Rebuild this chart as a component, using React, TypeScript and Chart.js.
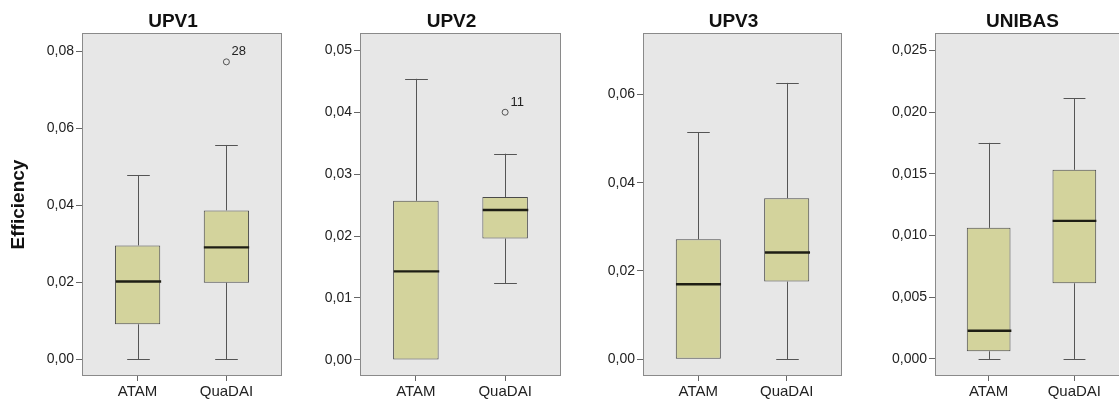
import React, { useEffect, useRef } from "react";
import { Chart, registerables } from "chart.js";

Chart.register(...registerables);

// ---------- data ----------
const categories = ["ATAM", "QuaDAI"];
const panelTitles = ["UPV1", "UPV2", "UPV3", "UNIBAS"];
const yAxisTitle = "Efficiency";

const upv1Min = [0, 0];
const upv1Q1 = [0.0091, 0.0199];
const upv1Median = [0.0202, 0.0291];
const upv1Q3 = [0.0296, 0.0387];
const upv1Max = [0.0479, 0.0557];
const upv1OutlierValue = [null, 0.0773];
const upv1OutlierLabel = ["", "28"];
const upv1Ticks = [0, 0.02, 0.04, 0.06, 0.08];

const upv2Min = [0, 0.0124];
const upv2Q1 = [0, 0.0196];
const upv2Median = [0.0143, 0.0242];
const upv2Q3 = [0.0257, 0.0263];
const upv2Max = [0.0454, 0.0333];
const upv2OutlierValue = [null, 0.04];
const upv2OutlierLabel = ["", "11"];
const upv2Ticks = [0, 0.01, 0.02, 0.03, 0.04, 0.05];

const upv3Min = [0, 0];
const upv3Q1 = [0, 0.0176];
const upv3Median = [0.017, 0.0242];
const upv3Q3 = [0.0272, 0.0365];
const upv3Max = [0.0514, 0.0626];
const upv3OutlierValue = [null, null];
const upv3OutlierLabel = ["", ""];
const upv3Ticks = [0, 0.02, 0.04, 0.06];

const unibasMin = [0, 0];
const unibasQ1 = [0.00062, 0.00613];
const unibasMedian = [0.00229, 0.01118];
const unibasQ3 = [0.01062, 0.01532];
const unibasMax = [0.0175, 0.02113];
const unibasOutlierValue = [null, null];
const unibasOutlierLabel = ["", ""];
const unibasTicks = [0, 0.005, 0.01, 0.015, 0.02, 0.025];

const axisMin = [-0.00434, -0.0026, -0.00378, -0.00138];
const axisMax = [0.0848, 0.0528, 0.0739, 0.0264];
const tickDecimals = [2, 2, 2, 3];

// ---------- styling / layout ----------
const FONT = "'Liberation Sans', Arial, sans-serif";
const BOX_FILL = "#D3D39C";
const BOX_EDGE = "#4a4a4a";
const PLOT_BG = "#E7E7E7";
const FRAME = "#8a8a8a";
const TEXT = "#222222";
const PLOT_TOP = 33;
const PLOT_BOTTOM = 376;
const H = 403;
const RIGHT_PAD = 6;
const plotLefts = [82, 360, 643, 935];
const plotRights = [282, 561, 842, 1128];
const CAT_PAD = 0.626;

const panels = [
  { min: upv1Min, q1: upv1Q1, med: upv1Median, q3: upv1Q3, max: upv1Max, outV: upv1OutlierValue, outL: upv1OutlierLabel, ticks: upv1Ticks },
  { min: upv2Min, q1: upv2Q1, med: upv2Median, q3: upv2Q3, max: upv2Max, outV: upv2OutlierValue, outL: upv2OutlierLabel, ticks: upv2Ticks },
  { min: upv3Min, q1: upv3Q1, med: upv3Median, q3: upv3Q3, max: upv3Max, outV: upv3OutlierValue, outL: upv3OutlierLabel, ticks: upv3Ticks },
  { min: unibasMin, q1: unibasQ1, med: unibasMedian, q3: unibasQ3, max: unibasMax, outV: unibasOutlierValue, outL: unibasOutlierLabel, ticks: unibasTicks },
];

function Panel({ index }: { index: number }) {
  const ref = useRef<HTMLCanvasElement | null>(null);
  const p = panels[index];
  const left = index === 0 ? 0 : plotLefts[index] - 80;
  const yAxisWidth = plotLefts[index] - left;
  const width = plotRights[index] - left + RIGHT_PAD;

  useEffect(() => {
    const canvas = ref.current;
    if (!canvas) return;

    const boxPlugin = {
      id: "boxExtras",
      beforeDraw(chart: any) {
        const { ctx, chartArea: a } = chart;
        ctx.save();
        ctx.fillStyle = PLOT_BG;
        ctx.fillRect(a.left, a.top, a.right - a.left, a.bottom - a.top);
        ctx.restore();
      },
      afterDatasetsDraw(chart: any) {
        const { ctx } = chart;
        const xs = chart.scales.x;
        const ys = chart.scales.y;
        const meta = chart.getDatasetMeta(0);
        ctx.save();
        categories.forEach((_, i) => {
          const el = meta.data[i];
          const bw = el ? el.width : 40;
          const cx = Math.round(xs.getPixelForValue(i + 1)) + 0.5;
          const yMin = ys.getPixelForValue(p.min[i]);
          const yQ1 = ys.getPixelForValue(p.q1[i]);
          const yQ3 = ys.getPixelForValue(p.q3[i]);
          const yMax = ys.getPixelForValue(p.max[i]);
          const yMed = ys.getPixelForValue(p.med[i]);
          ctx.strokeStyle = "#555555";
          ctx.lineWidth = 1;
          ctx.beginPath();
          ctx.moveTo(cx, yMax);
          ctx.lineTo(cx, yQ3);
          ctx.moveTo(cx, yQ1);
          ctx.lineTo(cx, yMin);
          const cw = bw / 4;
          ctx.moveTo(cx - cw, Math.round(yMax) + 0.5);
          ctx.lineTo(cx + cw, Math.round(yMax) + 0.5);
          if (p.min[i] < p.q1[i]) {
            ctx.moveTo(cx - cw, Math.round(yMin) + 0.5);
            ctx.lineTo(cx + cw, Math.round(yMin) + 0.5);
          }
          ctx.stroke();
          ctx.strokeStyle = "#1e1e14";
          ctx.lineWidth = 2.4;
          ctx.beginPath();
          ctx.moveTo(cx - bw / 2, yMed);
          ctx.lineTo(cx + bw / 2, yMed);
          ctx.stroke();
          const ov = p.outV[i];
          if (ov !== null && ov !== undefined) {
            const oy = ys.getPixelForValue(ov);
            ctx.fillStyle = TEXT;
            ctx.font = `13px ${FONT}`;
            ctx.textAlign = "left";
            ctx.textBaseline = "middle";
            ctx.fillText(p.outL[i], cx + 5, oy - 10);
          }
        });
        ctx.restore();
      },
      afterDraw(chart: any) {
        const { ctx, chartArea: a } = chart;
        ctx.save();
        ctx.strokeStyle = FRAME;
        ctx.lineWidth = 1;
        ctx.strokeRect(a.left + 0.5, a.top + 0.5, a.right - a.left - 1, a.bottom - a.top - 1);
        ctx.fillStyle = "#111111";
        ctx.font = `bold 19px ${FONT}`;
        ctx.textAlign = "center";
        ctx.textBaseline = "alphabetic";
        ctx.fillText(panelTitles[index], (a.left + a.right) / 2 - 9, 27);
        if (index === 0) {
          ctx.translate(19, (a.top + a.bottom) / 2);
          ctx.rotate(-Math.PI / 2);
          ctx.textBaseline = "middle";
          ctx.fillText(yAxisTitle, 0, 0);
        }
        ctx.restore();
      },
    };

    const boxData = categories.map((_, i) => ({ x: i + 1, y: [p.q1[i], p.q3[i]] }));
    const outData = p.outV
      .map((v, i) => (v === null ? null : { x: i + 1, y: v }))
      .filter((d) => d !== null);

    const chart = new Chart(canvas, {
      type: "bar",
      data: {
        datasets: [
          {
            type: "bar",
            data: boxData as any,
            backgroundColor: BOX_FILL,
            borderColor: BOX_EDGE,
            borderWidth: 1,
            borderSkipped: false,
            categoryPercentage: 1,
            barPercentage: 0.51,
          } as any,
          {
            type: "scatter",
            data: outData as any,
            pointRadius: 3,
            pointBackgroundColor: PLOT_BG,
            pointBorderColor: "#555555",
            pointBorderWidth: 1,
          } as any,
        ],
      },
      options: {
        responsive: false,
        animation: false,
        devicePixelRatio: 1,
        layout: { padding: { top: PLOT_TOP, right: RIGHT_PAD, left: 0, bottom: 0 } },
        plugins: { legend: { display: false }, tooltip: { enabled: false }, title: { display: false } },
        scales: {
          x: {
            type: "linear",
            offset: false,
            min: 1 - CAT_PAD,
            max: 2 + CAT_PAD,
            grid: { offset: false, drawOnChartArea: false, drawTicks: true, tickLength: 5, color: "#666666" },
            border: { display: false },
            afterBuildTicks: (axis: any) => {
              axis.ticks = categories.map((_, i) => ({ value: i + 1 }));
            },
            afterFit: (s: any) => {
              s.height = H - PLOT_BOTTOM;
            },
            ticks: {
              autoSkip: false,
              maxRotation: 0,
              padding: 2,
              color: TEXT,
              font: { family: FONT, size: 15 },
              callback: (v: any) => categories[Math.round(v) - 1] ?? "",
            },
          },
          y: {
            type: "linear",
            min: axisMin[index],
            max: axisMax[index],
            beginAtZero: false,
            grid: { drawOnChartArea: false, drawTicks: true, tickLength: 6, color: "#666666" },
            border: { display: false },
            afterBuildTicks: (axis: any) => {
              axis.ticks = p.ticks.map((v) => ({ value: v }));
            },
            afterFit: (s: any) => {
              s.width = yAxisWidth;
            },
            ticks: {
              padding: 2,
              color: TEXT,
              font: { family: FONT, size: 14 },
              callback: (v: any) => Number(v).toFixed(tickDecimals[index]).replace(".", ","),
            },
          },
        },
      } as any,
      plugins: [boxPlugin],
    });
    return () => chart.destroy();
  }, [index]);

  return (
    <canvas
      ref={ref}
      width={width}
      height={H}
      style={{ position: "absolute", left, top: 0, width, height: H }}
    />
  );
}

export default function App() {
  return (
    <div
      style={{
        position: "fixed",
        left: 0,
        top: 0,
        width: 1119,
        height: 403,
        overflow: "hidden",
        background: "#ffffff",
      }}
    >
      {panels.map((_, i) => (
        <Panel key={i} index={i} />
      ))}
    </div>
  );
}
